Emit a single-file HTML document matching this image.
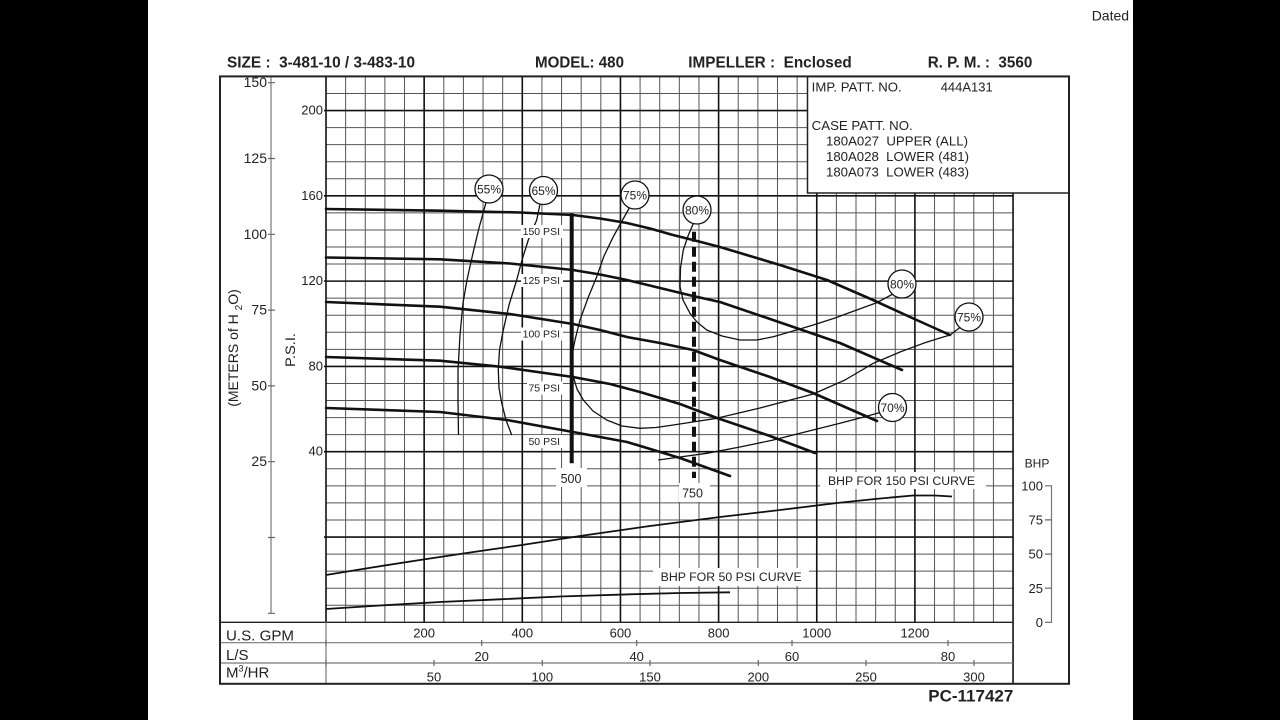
<!DOCTYPE html>
<html><head><meta charset="utf-8"><style>
html,body{margin:0;padding:0;background:#000;}
svg{display:block;}
text{font-family:"Liberation Sans",Arial,sans-serif;fill:#222;}
</style></head><body>
<svg width="1280" height="720" viewBox="0 0 1280 720" xmlns="http://www.w3.org/2000/svg">
<rect x="0" y="0" width="1280" height="720" fill="#000"/>
<rect x="148" y="0" width="985" height="720" fill="#fff"/>

<text x="1091.7" y="20.7" font-size="14" fill="#333">Dated</text>

<!-- header -->
<g font-weight="bold" font-size="15.5">
<text x="227" y="67.3" textLength="188" lengthAdjust="spacingAndGlyphs" xml:space="preserve">SIZE :  3-481-10 / 3-483-10</text>
<text x="535" y="67.3" textLength="89" lengthAdjust="spacingAndGlyphs">MODEL: 480</text>
<text x="688.3" y="67.3" textLength="163.4" lengthAdjust="spacingAndGlyphs" xml:space="preserve">IMPELLER :  Enclosed</text>
<text x="927.7" y="67.3" textLength="104.6" lengthAdjust="spacingAndGlyphs" xml:space="preserve">R. P. M. :  3560</text>
</g>

<!-- thin grid -->
<path fill="none" stroke="#555" stroke-width="1" d="
M345.63 76.4V622.3M365.26 76.4V622.3M384.89 76.4V622.3M404.52 76.4V622.3
M443.78 76.4V622.3M463.41 76.4V622.3M483.04 76.4V622.3M502.67 76.4V622.3
M541.93 76.4V622.3M561.56 76.4V622.3M581.19 76.4V622.3M600.82 76.4V622.3
M640.08 76.4V622.3M659.71 76.4V622.3M679.34 76.4V622.3M698.97 76.4V622.3
M738.23 76.4V622.3M757.86 76.4V622.3M777.49 76.4V622.3M797.12 76.4V622.3
M836.38 76.4V622.3M856.01 76.4V622.3M875.64 76.4V622.3M895.27 76.4V622.3
M934.53 76.4V622.3M954.16 76.4V622.3M973.79 76.4V622.3M993.42 76.4V622.3
M326 93.46H1013M326 127.58H1013M326 144.64H1013M326 161.7H1013M326 178.76H1013
M326 212.88H1013M326 229.94H1013M326 247H1013M326 264.06H1013
M326 298.18H1013M326 315.24H1013M326 332.3H1013M326 349.36H1013
M326 383.48H1013M326 400.54H1013M326 417.6H1013M326 434.66H1013
M326 468.78H1013M326 485.84H1013M326 502.9H1013M326 519.96H1013
M326 554.08H1013M326 571.14H1013M326 588.2H1013M326 605.26H1013"/>
<!-- heavy grid -->
<path fill="none" stroke="#111" stroke-width="1.6" d="
M326 76.4V622.3M424.15 76.4V622.3M522.3 76.4V622.3M620.45 76.4V622.3M718.6 76.4V622.3
M816.75 76.4V622.3M914.9 76.4V622.3M1013.05 76.4V684
M324 110.52H1013M324 195.82H1013M324 281.12H1013M324 366.42H1013M324 451.72H1013M324 537.02H1013"/>

<!-- head curves -->
<g fill="none" stroke="#111" stroke-width="2.6" stroke-linejoin="round" stroke-linecap="round">
<polyline points="326,209 440,210.7 520,212.5 573,215 600,218.5 627,223 650,228.5 673,235 697,241 720,247 750,256 780,265 827,280 873,300 910,317 950,335"/>
<polyline points="326,257.5 440,259.3 510,263.5 573,270 600,274.5 627,280 660,288 693,296 720,302 773,320 840,343 902,370"/>
<polyline points="326,302 440,306.7 510,314 573,324 600,330 627,337 660,343 693,350 720,360 770,377 813,393 877,421"/>
<polyline points="326,357 440,360.7 500,366.7 573,377 610,384 640,392 680,404 717,418 770,436 815,453"/>
<polyline points="326,408 440,412 507,420 573,432 627,442 680,458 730,476"/>
</g>

<!-- efficiency lines -->
<g fill="none" stroke="#111" stroke-width="1.3" stroke-linejoin="round">
<polyline points="489,200 486,202.5 479,228 473,253 467,280 463,303 460,335 458,370 458,400 458.5,435"/>
<polyline points="543,202 540,204 536.7,220 528.3,240 522,260 516.7,280 509,305 503.3,330 499.5,350 498.3,370 499,388 501.7,403 506,420 511.7,435"/>
<polyline points="632,206 629,208.5 622,221 613.3,236.7 604,256 596.7,276.7 588,298 580,320 575,340 571.7,356.7 571.5,368 573.3,376.7 577,389 583.3,400 593,411 606.7,420 622,426 640,428.3 656,427.5 673.3,425 696,421.5 716.7,418.3 760,408 813.3,394 845,380 873.3,363.3 900,352 923.3,343.3 940,338 950,335 962,326"/>
<polyline points="695,220 693.3,223.5 688,236 683.3,250 680.5,268 680,286.7 683,300 690,313.3 697,322 706.7,330 722,336 740,340 757,340 773.3,336.7 793,331 813.3,325 835,318 856.7,310 876,303 893,294"/>
<polyline points="658.3,460 680,457 706.7,453.3 740,447 773.3,440 805,432 840,423.3 862,417.5 882,412"/>
</g>

<!-- BHP curves -->
<g fill="none" stroke="#111" stroke-width="1.8" stroke-linejoin="round">
<polyline points="326,575 372,567.5 420,560 470,552.5 522,545 580,536 650,526 720,517 780,510 837,503 875,499 913,495.5 935,495.5 952,496.5"/>
<polyline points="326,609 380,605.5 440,602 500,599.3 560,596.5 630,594.3 680,593 730,592.3"/>
</g>

<!-- 500 / 750 lines -->
<line x1="571.7" y1="213.3" x2="571.7" y2="463.3" stroke="#111" stroke-width="4"/>
<line x1="694" y1="231.7" x2="694" y2="478" stroke="#111" stroke-width="4" stroke-dasharray="10 5"/>

<!-- label backgrounds -->
<g fill="#fff">
<rect x="521" y="225" width="42" height="13"/>
<rect x="521" y="274" width="42" height="13"/>
<rect x="521" y="327.5" width="42" height="13"/>
<rect x="527" y="381.5" width="36" height="13"/>
<rect x="527" y="435" width="36" height="13"/>
<rect x="556" y="468" width="31" height="19"/>
<rect x="679" y="483" width="31" height="19"/>
<rect x="820" y="472" width="166" height="17"/>
<rect x="653" y="568" width="156" height="18"/>
</g>
<g font-size="10.5" text-anchor="end">
<text x="560" y="235">150 PSI</text>
<text x="560" y="284">125 PSI</text>
<text x="560" y="337.7">100 PSI</text>
<text x="560" y="391.7">75 PSI</text>
<text x="560" y="445">50 PSI</text>
</g>
<g font-size="12.5" text-anchor="middle">
<text x="571" y="483">500</text>
<text x="692.5" y="497.5">750</text>
</g>
<text x="828" y="485" font-size="12.2" textLength="147" lengthAdjust="spacingAndGlyphs">BHP FOR 150 PSI CURVE</text>
<text x="660.7" y="581" font-size="12.2" textLength="141" lengthAdjust="spacingAndGlyphs">BHP FOR 50 PSI CURVE</text>

<!-- circles -->
<g fill="#fff" stroke="#111" stroke-width="1.3">
<circle cx="489" cy="189" r="14"/>
<circle cx="543.5" cy="190.5" r="14"/>
<circle cx="635" cy="195" r="14"/>
<circle cx="697" cy="210" r="14"/>
<circle cx="902" cy="284" r="14"/>
<circle cx="969" cy="317" r="14"/>
<circle cx="892.5" cy="407.5" r="14"/>
</g>
<g font-size="12" text-anchor="middle">
<text x="489" y="193.3">55%</text>
<text x="543.5" y="194.8">65%</text>
<text x="635" y="199.3">75%</text>
<text x="697" y="214.3">80%</text>
<text x="902" y="288.3">80%</text>
<text x="969" y="321.3">75%</text>
<text x="892.5" y="411.8">70%</text>
</g>

<!-- info box -->
<rect x="807.5" y="76.5" width="261.5" height="116.5" fill="#fff" stroke="#222" stroke-width="1.5"/>
<g font-size="13">
<text x="811.7" y="91.5" textLength="90" lengthAdjust="spacingAndGlyphs">IMP. PATT. NO.</text>
<text x="940.7" y="91.5" textLength="52" lengthAdjust="spacingAndGlyphs">444A131</text>
<text x="811.7" y="130" textLength="101" lengthAdjust="spacingAndGlyphs">CASE PATT. NO.</text>
<text x="826" y="145.7" textLength="142" lengthAdjust="spacingAndGlyphs" xml:space="preserve">180A027  UPPER (ALL)</text>
<text x="826" y="161" textLength="143" lengthAdjust="spacingAndGlyphs" xml:space="preserve">180A028  LOWER (481)</text>
<text x="826" y="176.7" textLength="143" lengthAdjust="spacingAndGlyphs" xml:space="preserve">180A073  LOWER (483)</text>
</g>

<!-- left axes -->
<line x1="271" y1="77" x2="271" y2="613.3" stroke="#777" stroke-width="1.2"/>
<path stroke="#666" stroke-width="1.2" d="M268 82.7H275M268 158.5H275M268 234.3H275M268 310.1H275M268 385.9H275M268 461.7H275M268 537.5H275M268 613.3H275"/>
<g font-size="14" text-anchor="end" fill="#333">
<text x="267" y="87.2">150</text>
<text x="267" y="163">125</text>
<text x="267" y="238.8">100</text>
<text x="267" y="314.6">75</text>
<text x="267" y="390.4">50</text>
<text x="267" y="466.2">25</text>
</g>
<g font-size="13" text-anchor="end">
<text x="323" y="114.5">200</text>
<text x="323" y="199.8">160</text>
<text x="323" y="285.1">120</text>
<text x="323" y="370.4">80</text>
<text x="323" y="455.7">40</text>
</g>
<text transform="translate(295,350) rotate(-90)" font-size="14" text-anchor="middle" textLength="34" lengthAdjust="spacingAndGlyphs">P.S.I.</text>
<text transform="translate(238,348) rotate(-90)" font-size="14" text-anchor="middle">(METERS of H <tspan font-size="10" dy="4">2</tspan><tspan dy="-4">O)</tspan></text>

<!-- right BHP axis -->
<line x1="1051.5" y1="485.8" x2="1051.5" y2="622.3" stroke="#777" stroke-width="1.2"/>
<path stroke="#666" stroke-width="1.2" d="M1045 485.8H1052M1045 519.9H1052M1045 554.1H1052M1045 588.2H1052M1045 622.3H1052"/>
<text x="1037" y="467.5" font-size="12" text-anchor="middle">BHP</text>
<g font-size="13" text-anchor="end">
<text x="1043" y="490.5">100</text>
<text x="1043" y="524.5">75</text>
<text x="1043" y="558.7">50</text>
<text x="1043" y="592.8">25</text>
<text x="1043" y="626.8">0</text>
</g>

<!-- bottom rows -->
<path stroke="#222" stroke-width="1.4" fill="none" d="M220 622.3H1013"/>
<path stroke="#777" stroke-width="1.2" fill="none" d="M220 642.7H1013M220 663H1013M326 622.3V684"/>
<path stroke="#666" stroke-width="1.2" d="M326 640V646M481.7 640V646M636.7 640V646M792 640V646M948 640V646
M326 660V666M434 660V666M542.3 660V666M650 660V666M758.3 660V666M866 660V666M974 660V666"/>
<text x="226" y="640.5" font-size="15" textLength="68" lengthAdjust="spacingAndGlyphs">U.S. GPM</text>
<text x="226" y="660" font-size="15">L/S</text>
<text x="226" y="677.5" font-size="15">M<tspan font-size="9" dy="-6">3</tspan><tspan dy="6">/HR</tspan></text>
<g font-size="13" text-anchor="middle">
<text x="424.15" y="637.5">200</text>
<text x="522.3" y="637.5">400</text>
<text x="620.45" y="637.5">600</text>
<text x="718.6" y="637.5">800</text>
<text x="816.75" y="637.5">1000</text>
<text x="914.9" y="637.5">1200</text>
<text x="481.7" y="661">20</text>
<text x="636.7" y="661">40</text>
<text x="792" y="661">60</text>
<text x="948" y="661">80</text>
<text x="434" y="681.5">50</text>
<text x="542.3" y="681.5">100</text>
<text x="650" y="681.5">150</text>
<text x="758.3" y="681.5">200</text>
<text x="866" y="681.5">250</text>
<text x="974" y="681.5">300</text>
</g>

<!-- outer frame -->
<rect x="220" y="76.4" width="849" height="607.4" fill="none" stroke="#222" stroke-width="2"/>

<text x="928.3" y="701.5" font-size="17" font-weight="bold" textLength="85" lengthAdjust="spacingAndGlyphs">PC-117427</text>
</svg>
</body></html>
